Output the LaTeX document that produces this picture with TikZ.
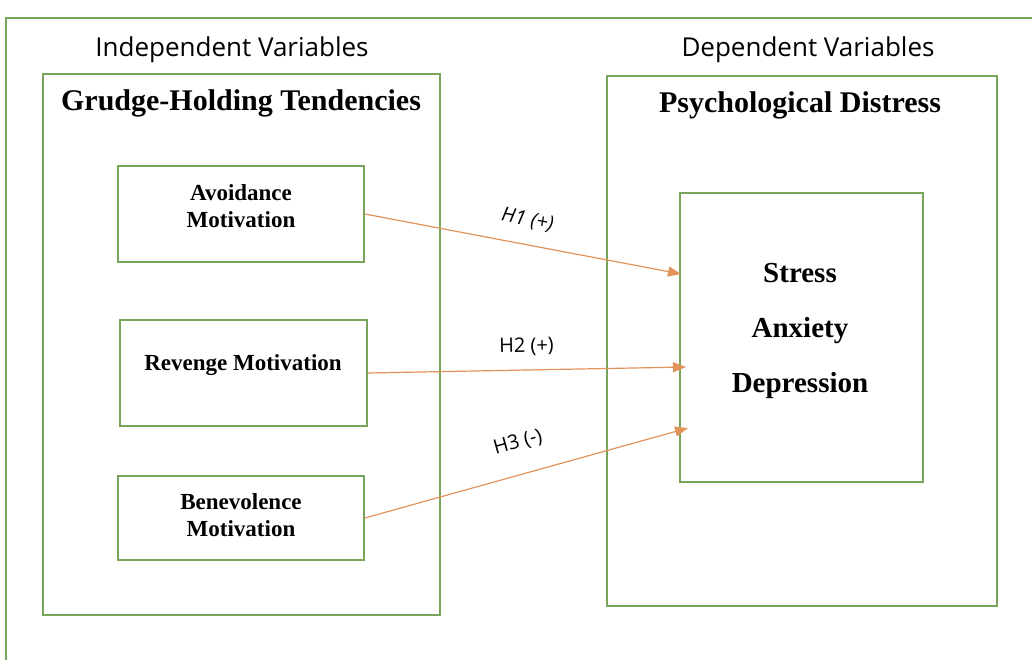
\documentclass[tikz,border=0pt]{standalone}
\usepackage{fontspec}
\setmainfont{Liberation Serif}
\newfontfamily\opensans{Open Sans}
\usetikzlibrary{arrows.meta,positioning}
\definecolor{boxgreen}{HTML}{78A55A}
\definecolor{arroworange}{HTML}{E3935A}

\begin{document}
\begin{tikzpicture}[x=1pt,y=-1pt,
  frame/.style={draw=boxgreen,line width=1.6pt},
  varbox/.style={frame,minimum width=#1,inner sep=0pt},
  heading/.style={font=\opensans\fontsize{26}{30}\selectfont},
  title/.style={font=\bfseries\fontsize{30}{34}\selectfont},
  boxtext/.style={align=center,font=\bfseries\fontsize{23}{27}\selectfont},
  hyp/.style={draw=arroworange,line width=1.2pt,-{Triangle[length=13pt,width=10pt]}},
  hlabel/.style={font=\opensans\fontsize{20}{24}\selectfont,inner sep=0pt,sloped}]
  \useasboundingbox (0,0) rectangle (1032,660);
  \fill[white] (0,0) rectangle (1032,660);
  \draw[frame] (6,660) -- (6,18) -- (1032,18);

  % independent side
  \node[heading] (ivhead) at (232,50) {Independent Variables};
  \node[varbox=397pt,minimum height=541pt] (iv) at (241.5,344.5) {};
  \node[title] (ivtitle) at (241,103) {Grudge-Holding Tendencies};
  \node[varbox=246pt,minimum height=96pt] (avoid) at (241,214) {};
  \node[varbox=247pt,minimum height=106pt] (revenge) at (243.5,373) {};
  \node[varbox=246pt,minimum height=84pt] (benev) at (241,518) {};
  \node[boxtext] (avoidtxt) at (241,206) {Avoidance\\Motivation};
  \node[boxtext] (revengetxt) at (243,365) {Revenge Motivation};
  \node[boxtext] (benevtxt) at (241,515) {Benevolence\\Motivation};

  % dependent side
  \node[heading] (dvhead) at (808,50) {Dependent Variables};
  \node[varbox=390pt,minimum height=530pt] (dv) at (802,341) {};
  \node[title] (dvtitle) at (800,105) {Psychological Distress};
  \node[varbox=243pt,minimum height=289pt] (distress) at (801.5,337.5) {};
  \node[align=center,font=\bfseries\fontsize{29}{55}\selectfont] (distresstxt) at (800,331)
    {Stress\\Anxiety\\Depression};

  % hypotheses
  \coordinate (h1end) at (681,274);
  \coordinate (h2end) at (686,367);
  \coordinate (h3end) at (688,428);
  \draw[hyp] (avoid.east) -- (h1end) node[hlabel,pos=.5,above=15pt] {\itshape H1 (+)};
  \draw[hyp] (revenge.east) -- (h2end) node[hlabel,pos=.5,above=14pt] {H2 (+)};
  \draw[hyp] (benev.east) -- (h3end) node[hlabel,pos=.5,above=22pt] {H3 (-)};
\end{tikzpicture}
\end{document}
